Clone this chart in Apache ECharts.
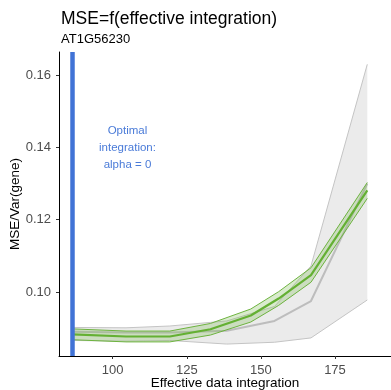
<!DOCTYPE html>
<html>
<head>
<meta charset="utf-8">
<script src="https://cdn.jsdelivr.net/npm/echarts@6/dist/echarts.min.js"></script>
<style>
html,body{margin:0;padding:0;background:#fff;}
#c{width:391px;height:390px;}
</style>
</head>
<body>
<div id="c"></div>
<script>
// ---- data ----
const titleText = 'MSE=f(effective integration)';
const subtitleText = 'AT1G56230';
const xTicks = [100, 125, 150, 175];
const yTicks = [0.10, 0.12, 0.14, 0.16];
const optimalX = 86.4;
const optimalLabel = 'Optimal\nintegration:\nalpha = 0';

const greenX     = [86.4, 104.5, 119.3, 133.0, 146.6, 156.0, 166.9, 185.9];
const greenMean  = [0.0883, 0.0877, 0.0877, 0.0897, 0.0935, 0.0982, 0.1047, 0.1281];
const greenUpper = [0.0898, 0.0892, 0.0892, 0.0913, 0.0953, 0.1001, 0.1067, 0.1303];
const greenLower = [0.0868, 0.0862, 0.0862, 0.0881, 0.0917, 0.0963, 0.1027, 0.1259];

const grayX     = [86.4, 104.5, 119.3, 138.5, 154.6, 166.9, 185.9];
const grayMean  = [0.0890, 0.0888, 0.0888, 0.0893, 0.0920, 0.0975, 0.1300];
const grayUpper = [0.0902, 0.0901, 0.0906, 0.0920, 0.0960, 0.1072, 0.1630];
const grayLower = [0.0866, 0.0864, 0.0866, 0.0856, 0.0861, 0.0873, 0.0978];

const FONT = "'Liberation Sans', Arial, sans-serif";

function zip(xs, ys){ return xs.map((x,i)=>[x, ys[i]]); }

function bandSeries(xs, lo, hi, fill, stroke, strokeW){
  return {
    type: 'custom',
    silent: true,
    data: [[xs[0], lo[0]]],
    renderItem: function(params, api){
      const up = xs.map((x,i)=>api.coord([x, hi[i]]));
      const dn = xs.map((x,i)=>api.coord([x, lo[i]]));
      const poly = up.concat(dn.slice().reverse());
      return {
        type: 'group',
        children: [
          {type:'polygon', shape:{points:poly}, style:{fill:fill, stroke:'none'}},
          {type:'polyline', shape:{points:up}, style:{fill:'none', stroke:stroke, lineWidth:strokeW}},
          {type:'polyline', shape:{points:dn}, style:{fill:'none', stroke:stroke, lineWidth:strokeW}}
        ]
      };
    },
    z: 1
  };
}

const chart = echarts.init(document.getElementById('c'), null, {renderer:'canvas'});
const option = {
  animation: false,
  title: {
    text: titleText,
    subtext: subtitleText,
    left: 56,
    top: 5,
    itemGap: 5,
    textStyle: {fontFamily: FONT, fontSize: 17.5, fontWeight: 'normal', color: '#000'},
    subtextStyle: {fontFamily: FONT, fontSize: 13, color: '#000'}
  },
  grid: {left: 59, right: 0, top: 52, bottom: 34, containLabel: false, outerBoundsMode: 'none'},
  xAxis: {
    type: 'value',
    min: 81.9, max: 193.9,
    name: 'Effective data integration',
    nameLocation: 'middle',
    nameGap: 20,
    nameMoveOverlap: false,
    nameTextStyle: {fontFamily: FONT, fontSize: 13.5, color: '#000'},
    axisLine: {show: true, lineStyle: {color: '#000', width: 1}},
    axisTick: {show: true, length: 3, lineStyle: {color: '#333'}, customValues: xTicks},
    axisLabel: {fontFamily: FONT, fontSize: 13, color: '#4d4d4d', margin: 8, customValues: xTicks},
    splitLine: {show: false}
  },
  yAxis: {
    type: 'value',
    min: 0.0823, max: 0.1664,
    name: 'MSE/Var(gene)',
    nameLocation: 'middle',
    nameGap: 37,
    nameMoveOverlap: false,
    nameTextStyle: {fontFamily: FONT, fontSize: 13.5, color: '#000'},
    axisLine: {show: true, lineStyle: {color: '#000', width: 1}},
    axisTick: {show: true, length: 3, lineStyle: {color: '#333'}, customValues: yTicks},
    axisLabel: {fontFamily: FONT, fontSize: 13, color: '#4d4d4d', margin: 8, customValues: yTicks,
      formatter: v => v.toFixed(2)},
    splitLine: {show: false}
  },
  series: [
    bandSeries(grayX, grayLower, grayUpper, '#ebebeb', '#c4c4c4', 1),
    {
      type: 'line', data: zip(grayX, grayMean), symbol: 'none', silent: true,
      lineStyle: {color: '#bdbdbd', width: 2}, z: 2
    },
    Object.assign(bandSeries(greenX, greenLower, greenUpper, 'rgba(130,190,90,0.3)', '#6db33f', 1), {z: 3}),
    {
      type: 'line', data: zip(greenX, greenMean), symbol: 'none', silent: true,
      lineStyle: {color: '#64b033', width: 2.2}, z: 4,
      markLine: {
        silent: true, symbol: 'none',
        label: {show: false},
        lineStyle: {color: '#4173d6', width: 4.5, type: 'solid'},
        data: [{xAxis: optimalX}]
      }
    }
  ]
};
chart.setOption(option);
const p = chart.convertToPixel({gridIndex: 0}, [105, 0.14]);
chart.setOption({
  graphic: [{
    type: 'text', x: p[0], y: p[1],
    style: {text: optimalLabel, fontFamily: FONT, fontSize: 11.5, fill: '#4a7bd8',
      textAlign: 'center', textVerticalAlign: 'middle', lineHeight: 17}
  }]
});
</script>
</body>
</html>
